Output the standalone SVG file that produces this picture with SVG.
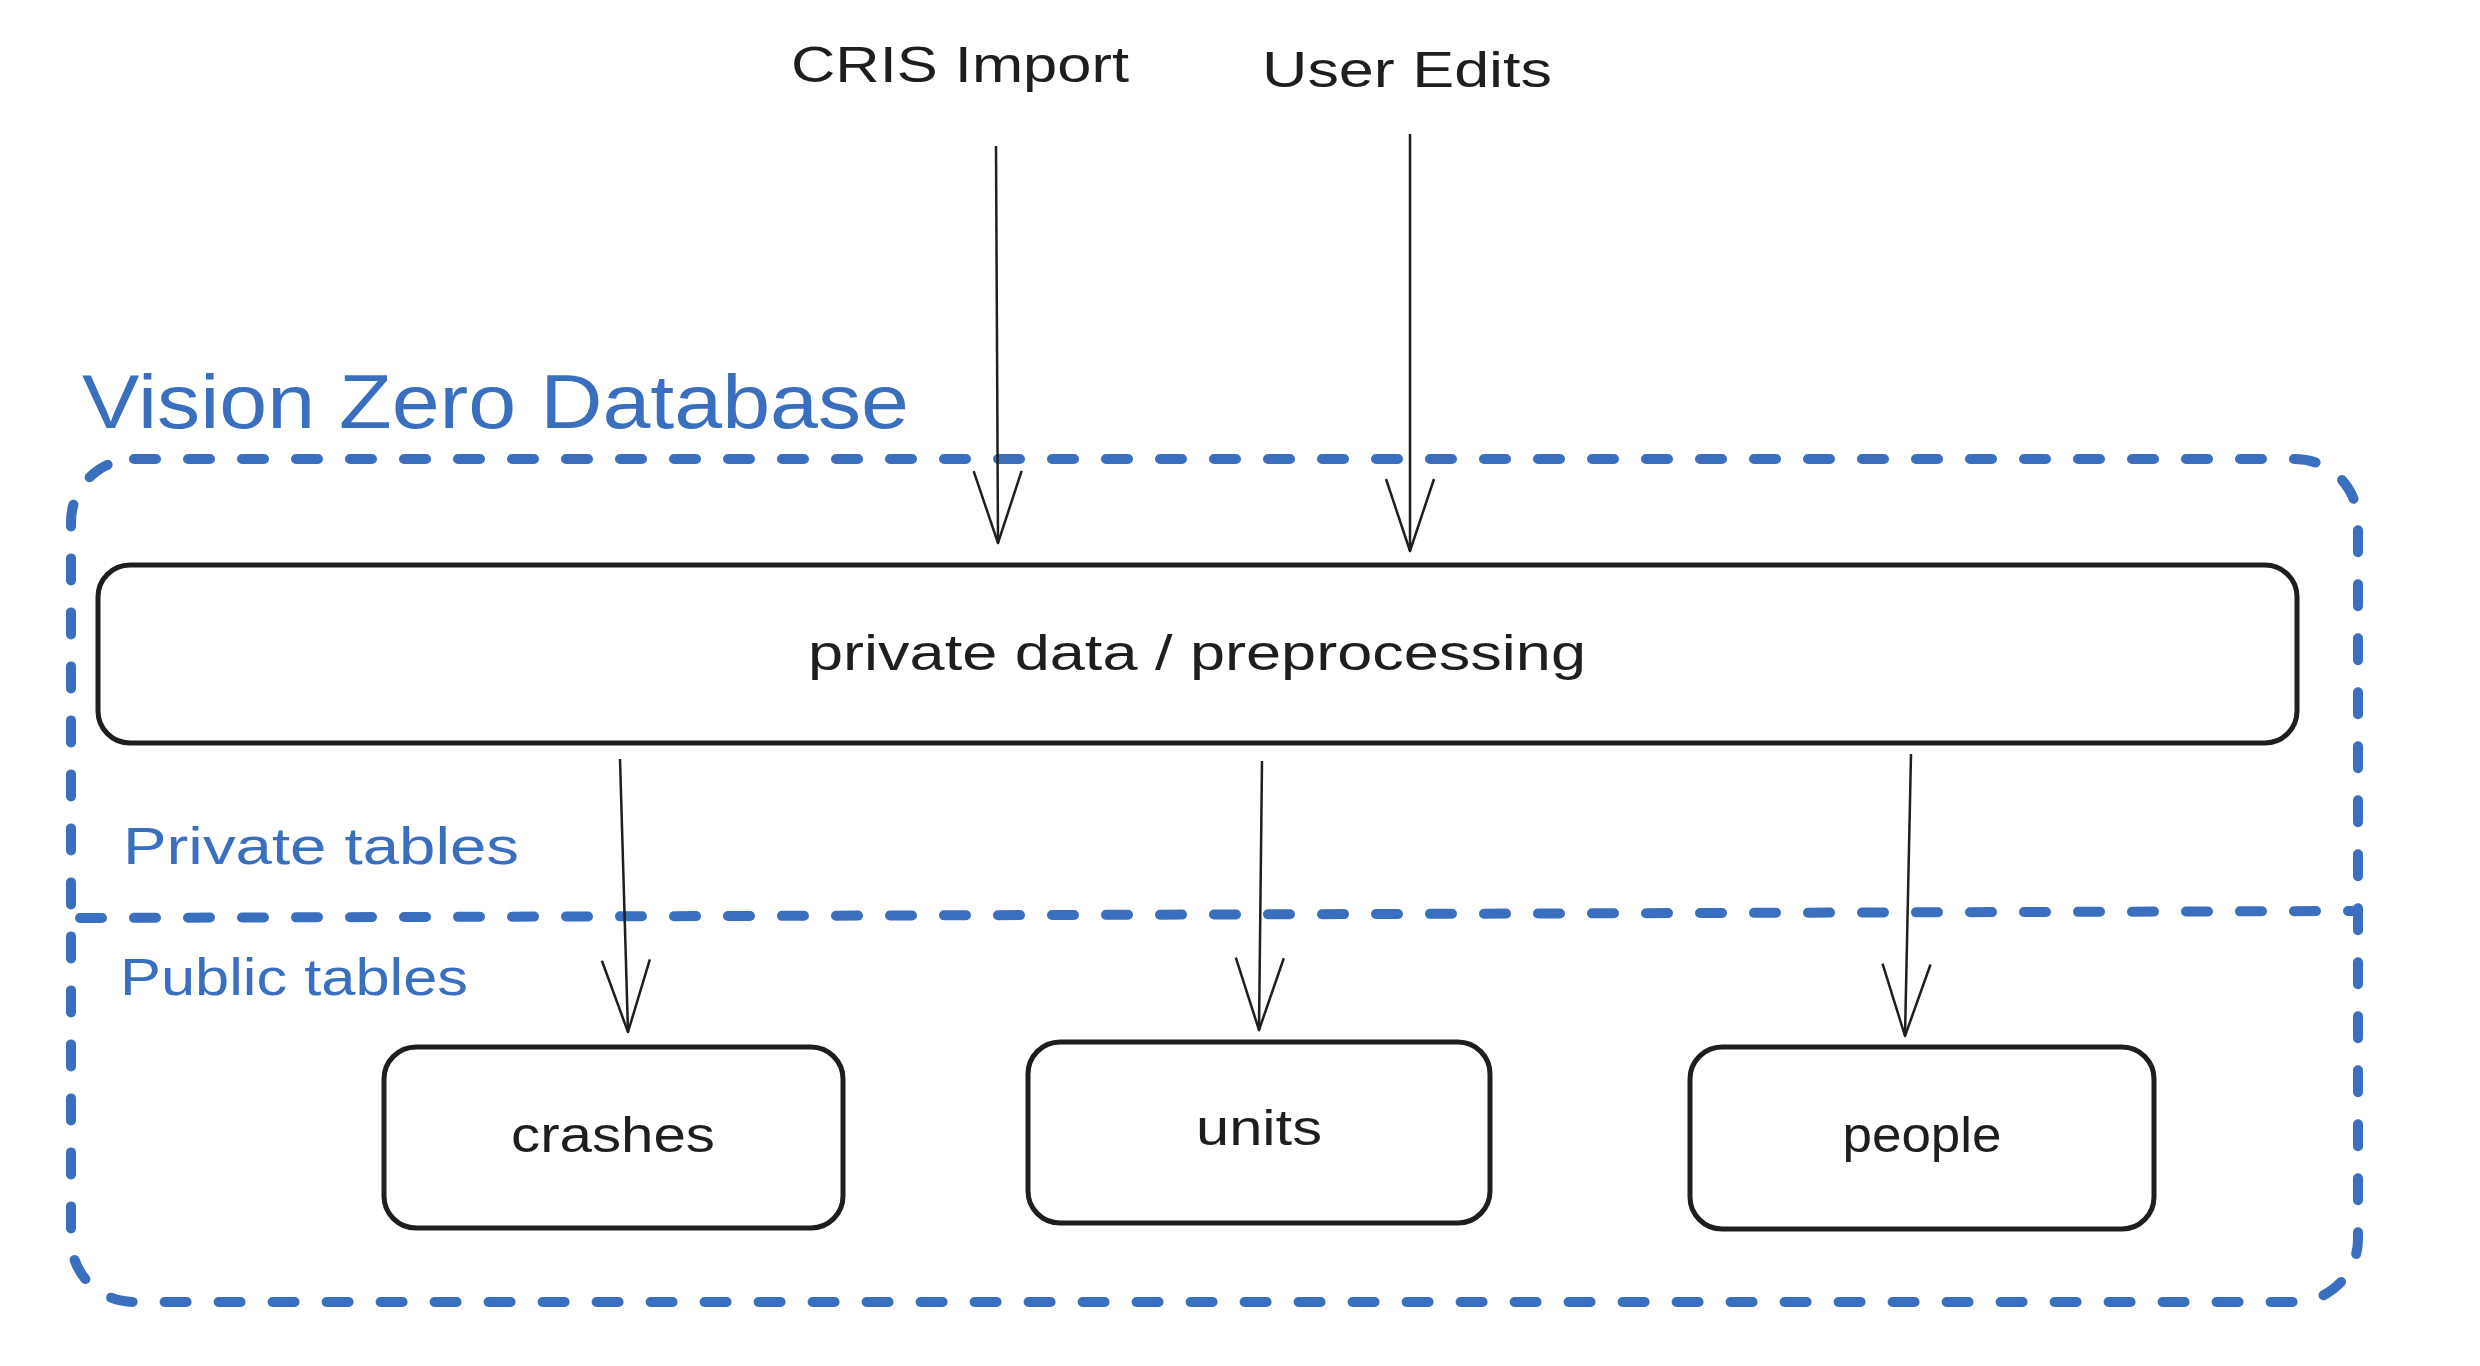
<svg xmlns="http://www.w3.org/2000/svg" width="2480" height="1366" viewBox="0 0 2480 1366">
  <defs>
    <style>
      .lbl { font-family: "Liberation Sans", Arial, sans-serif; fill: #1e1e1e; text-anchor: middle; }
      .blue { font-family: "Liberation Sans", Arial, sans-serif; fill: #3a6fbf; }
      .box { fill: #ffffff; stroke: #1e1e1e; stroke-width: 5; }
      .dash { fill: none; stroke: #3a6fbf; stroke-width: 10; stroke-linecap: round; stroke-dasharray: 22 32; }
      .conn { fill: none; stroke: #1e1e1e; stroke-width: 2.5; }
    </style>
    <marker id="arrow" markerUnits="userSpaceOnUse" markerWidth="90" markerHeight="70" refX="0" refY="0" viewBox="-80 -35 90 70" orient="auto" overflow="visible">
      <path d="M -72 -24 L 0 0 L -72 24" fill="none" stroke="#1e1e1e" stroke-width="2.5" stroke-linejoin="round"/>
    </marker>
  </defs>
  <rect width="2480" height="1366" fill="#ffffff"/>

  <g id="database-frame">
    <rect class="dash" x="71" y="459" width="2287" height="843" rx="63" ry="63"/>
    <path class="dash" d="M 80 918 L 2355 911"/>
    <text class="blue" x="82" y="428" font-size="76" textLength="827" lengthAdjust="spacingAndGlyphs">Vision Zero Database</text>
    <text class="blue" x="123" y="864" font-size="52" textLength="396" lengthAdjust="spacingAndGlyphs">Private tables</text>
    <text class="blue" x="120" y="995" font-size="52" textLength="348" lengthAdjust="spacingAndGlyphs">Public tables</text>
  </g>

  <g id="cris-import">
    <text class="lbl" x="960" y="82" font-size="50" textLength="338" lengthAdjust="spacingAndGlyphs">CRIS Import</text>
  </g>
  <g id="user-edits">
    <text class="lbl" x="1407" y="87" font-size="50" textLength="290" lengthAdjust="spacingAndGlyphs">User Edits</text>
  </g>

  <g id="private-data">
    <rect class="box" x="98" y="565" width="2199" height="178" rx="32" ry="32"/>
    <text class="lbl" x="1197" y="670" font-size="50" textLength="778" lengthAdjust="spacingAndGlyphs">private data / preprocessing</text>
  </g>

  <g id="crashes">
    <rect class="box" x="384" y="1047" width="459" height="181" rx="32" ry="32"/>
    <text class="lbl" x="613" y="1152" font-size="50" textLength="204" lengthAdjust="spacingAndGlyphs">crashes</text>
  </g>
  <g id="units">
    <rect class="box" x="1028" y="1042" width="462" height="181" rx="32" ry="32"/>
    <text class="lbl" x="1259" y="1145" font-size="50" textLength="126" lengthAdjust="spacingAndGlyphs">units</text>
  </g>
  <g id="people">
    <rect class="box" x="1690" y="1047" width="464" height="182" rx="32" ry="32"/>
    <text class="lbl" x="1922" y="1152" font-size="50" textLength="159" lengthAdjust="spacingAndGlyphs">people</text>
  </g>

  <g id="connectors">
    <path class="conn" d="M 996 146 L 998 543" marker-end="url(#arrow)"/>
    <path class="conn" d="M 1410 134 L 1410 551" marker-end="url(#arrow)"/>
    <path class="conn" d="M 620 759 L 628 1032" marker-end="url(#arrow)"/>
    <path class="conn" d="M 1262 761 L 1259 1030" marker-end="url(#arrow)"/>
    <path class="conn" d="M 1911 754 L 1905 1036" marker-end="url(#arrow)"/>
  </g>
</svg>
